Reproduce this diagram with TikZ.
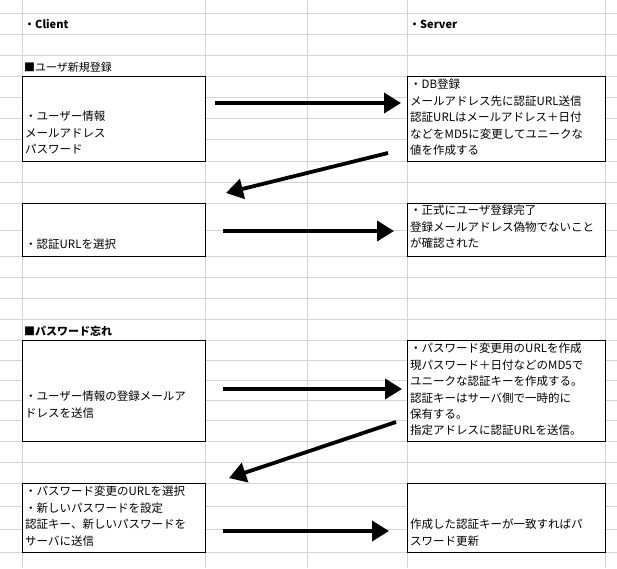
\documentclass[tikz,border=0pt]{standalone}
\usepackage{fontspec}
\setmainfont{Noto Sans CJK JP}
\usetikzlibrary{arrows.meta}
\definecolor{gridc}{RGB}{212,212,212}
\tikzset{
 box/.style={draw=black,line width=1pt,fill=white},
 txt/.style={anchor=north west,inner sep=0pt,align=left,font=\fontsize{11.5}{16.4}\selectfont},
 head/.style={anchor=west,inner sep=0pt,font=\fontsize{11}{14}\selectfont},
 flow/.style={line width=3.8pt,-{Triangle[length=17pt,width=20pt]}}
}
\begin{document}
\begin{tikzpicture}[x=1pt,y=-1pt]
\useasboundingbox (0,0) rectangle (617,568);
% grid
\foreach \x in {22,205,307,407,605} \draw[gridc,line width=0.8pt] (\x,0) -- (\x,568);
\foreach \y in {13,34,55,76,97,118,139,161,182,203,230,256,277,298,319,340,360,380,400,420,441,462,483,506,529,552} \draw[gridc,line width=0.8pt] (0,\y) -- (617,\y);
% headings
\node[head,font=\fontsize{11}{14}\selectfont\bfseries] (hc) at (24,24) {・Client};
\node[head,font=\fontsize{11}{14}\selectfont\bfseries] (hs) at (409,24) {・Server};
\node[head] (h1) at (24,67) {■ユーザ新規登録};
\node[head,font=\fontsize{11}{14}\selectfont\bfseries] (h2) at (24,331) {■パスワード忘れ};
% boxes
\draw[box] (22,76) rectangle (205,161);
\draw[box] (407,76) rectangle (605,161);
\draw[box] (22,203) rectangle (205,256);
\draw[box] (407,203) rectangle (605,256);
\draw[box] (22,340) rectangle (205,441);
\draw[box] (407,340) rectangle (605,441);
\draw[box] (22,483) rectangle (205,552);
\draw[box] (407,483) rectangle (605,552);
% texts
\node[txt] (c1) at (25,111) {・ユーザー情報\\メールアドレス\\パスワード};
\node[txt] (s1) at (410,79) {・DB登録\\メールアドレス先に認証URL送信\\認証URLはメールアドレス＋日付\\などをMD5に変更してユニークな\\値を作成する};
\node[txt] (c2) at (25,239) {・認証URLを選択};
\node[txt] (s2) at (410,205) {・正式にユーザ登録完了\\登録メールアドレス偽物でないこと\\が確認された};
\node[txt] (c3) at (25,391) {・ユーザー情報の登録メールア\\ドレスを送信};
\node[txt] (s3) at (410,343) {・パスワード変更用のURLを作成\\現パスワード＋日付などのMD5で\\ユニークな認証キーを作成する。\\認証キーはサーバ側で一時的に\\保有する。\\指定アドレスに認証URLを送信。};
\node[txt] (c4) at (25,486) {・パスワード変更のURLを選択\\・新しいパスワードを設定\\認証キー、新しいパスワードを\\サーバに送信};
\node[txt] (s4) at (410,519) {作成した認証キーが一致すればパ\\スワード更新};
% arrows
\coordinate (a1s) at (215,103); \coordinate (a1e) at (401,103);
\coordinate (a2s) at (388,153); \coordinate (a2e) at (226,193);
\coordinate (a3s) at (223,231); \coordinate (a3e) at (394,231);
\coordinate (a4s) at (223,389); \coordinate (a4e) at (402,389);
\coordinate (a5s) at (396,422); \coordinate (a5e) at (229,478);
\coordinate (a6s) at (223,531); \coordinate (a6e) at (389,531);
\draw[flow] (a1s) -- (a1e);
\draw[flow] (a2s) -- (a2e);
\draw[flow] (a3s) -- (a3e);
\draw[flow] (a4s) -- (a4e);
\draw[flow] (a5s) -- (a5e);
\draw[flow] (a6s) -- (a6e);
\end{tikzpicture}
\end{document}
